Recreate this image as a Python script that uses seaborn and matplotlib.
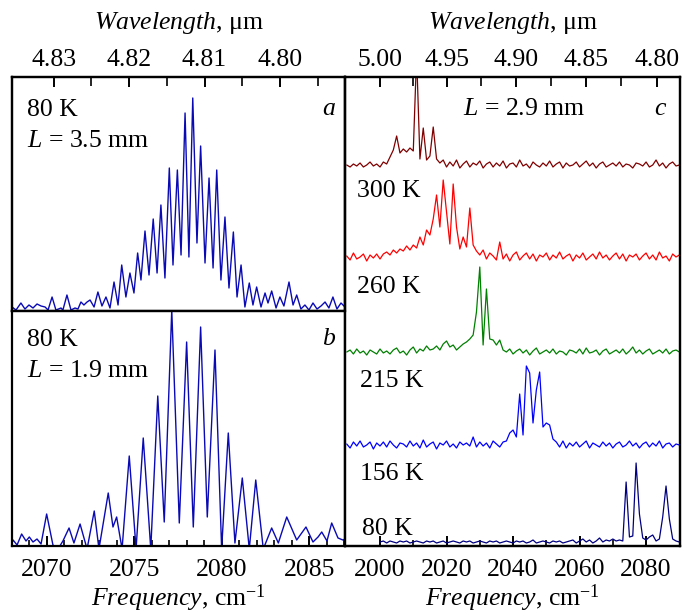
import numpy as np
import matplotlib
matplotlib.use("Agg")
import matplotlib.pyplot as plt
import seaborn as sns

# ---- panel a: L = 3.5 mm, 80 K (peak / valley points, cm-1 and arb. units)
freq_a = [2068.00, 2068.23, 2068.51, 2068.74, 2068.97, 2069.20, 2069.43, 2069.66,
          2069.89, 2070.06, 2070.29, 2070.51, 2070.80, 2070.91, 2071.14, 2071.37,
          2071.60, 2071.77, 2071.94, 2072.11, 2072.29, 2072.46, 2072.69, 2072.91,
          2073.14, 2073.37, 2073.60, 2073.83, 2074.06, 2074.27, 2074.51, 2074.74,
          2074.97, 2075.18, 2075.37, 2075.60, 2075.83, 2076.07, 2076.29, 2076.51,
          2076.74, 2076.99, 2077.20, 2077.45, 2077.66, 2077.89, 2078.11, 2078.33,
          2078.57, 2078.78, 2079.03, 2079.26, 2079.49, 2079.70, 2079.94, 2080.17,
          2080.40, 2080.65, 2080.86, 2081.09, 2081.31, 2081.56, 2081.77, 2081.98,
          2082.23, 2082.46, 2082.63, 2082.84, 2083.09, 2083.31, 2083.54, 2083.83,
          2084.06, 2084.27, 2084.51, 2084.74, 2084.97, 2085.20, 2085.43, 2085.66,
          2085.89, 2086.11, 2086.34, 2086.57, 2086.80, 2087.03]
amp_a = [4, 1, 8, 2, 6, 3, 7, 5,
         4, 1, 14, 1, 3, 1, 16, 1,
         3, 2, 9, 6, 9, 11, 4, 19,
         5, 14, 3, 29, 6, 46, 14, 38,
         18, 58, 31, 80, 36, 92, 38, 106,
         33, 143, 46, 141, 56, 198, 54, 213,
         68, 165, 48, 133, 43, 141, 31, 94,
         23, 79, 14, 46, 4, 28, 6, 24,
         4, 18, 8, 20, 3, 14, 5, 29,
         6, 16, 2, 6, 1, 8, 2, 5,
         9, 3, 14, 2, 8, 4]

# ---- panel b: L = 1.9 mm, 80 K
freq_b = [2068.00, 2068.06, 2068.29, 2068.55, 2068.80, 2068.99, 2069.20, 2069.43,
          2069.66, 2069.98, 2070.34, 2070.63, 2070.91, 2071.26, 2071.54, 2071.89,
          2072.29, 2072.70, 2072.97, 2073.50, 2073.77, 2073.98, 2074.29, 2074.70,
          2075.09, 2075.50, 2075.93, 2076.33, 2076.70, 2077.13, 2077.56, 2077.98,
          2078.36, 2078.78, 2079.16, 2079.60, 2079.98, 2080.36, 2080.74, 2081.16,
          2081.56, 2081.93, 2082.36, 2082.84, 2083.22, 2083.70, 2084.27, 2084.80,
          2085.20, 2085.49, 2085.70, 2086.00, 2086.27, 2086.63, 2086.91, 2087.03]
amp_b = [3, 6, 1, 12, 5, 9, 4, 7,
         2, 32, 1, -3, 5, 18, 3, 22,
         -3, 35, -3, 53, 19, 29, -3, 90,
         -3, 108, -3, 150, 24, 236, 23, 204,
         19, 219, 29, 196, -3, 113, 3, 68,
         -3, 66, -3, 18, 3, 29, 6, 19,
         4, 9, 14, 5, 23, 8, 6, 7]

# ---- panel c: L = 2.9 mm, spectra vs temperature (1 cm-1 steps)
freq_c = np.arange(1990, 2091)
freq_80k = np.arange(2000, 2091)
labels_c = ["300 K", "260 K", "215 K", "156 K", "80 K"]

spec_top = [0, -2, 1, -1, 2, -2, 0, 3, -1, 1,
            -2, 3, 1, 8, 15, 29, 12, 16, 13, 17,
            14, 110, 6, 37, 5, 9, 38, 6, 2, 5,
            -2, 3, -1, 5, -3, 1, 4, -2, 2, 0,
            4, -3, 1, 3, -2, 2, -1, 4, -3, 1,
            2, -2, 5, -1, 1, -3, 3, 0, -2, 2,
            -1, 4, -2, 1, 3, -3, 2, -1, 0, 3,
            -2, 1, 4, -1, 2, -3, 1, 3, -2, 0,
            2, -1, 3, -2, 1, 0, -3, 2, 1, -1,
            3, -2, 0, 5, -1, 2, -3, 1, 3, -1,
            0]
spec_300k = [1, -3, 4, -2, 0, 3, -4, 2, -1, 3,
             -2, 3, 5, 2, 7, 4, 8, 6, 11, 7,
             12, 9, 20, 12, 27, 22, 38, 62, 30, 77,
             45, 13, 73, 30, 8, 20, 10, 49, 12, 6,
             2, 7, -2, 4, 1, -3, 15, -2, 3, -4,
             2, 5, -3, 1, 4, -2, 3, -4, 2, 0,
             4, -3, 2, -1, 5, -2, 1, 3, -4, 2,
             -1, 4, -3, 0, 3, -2, 5, -1, 2, -3,
             1, 4, -2, 3, -4, 2, 0, 3, -3, 1,
             4, -2, 2, -3, 5, -1, 1, -4, 3, 0,
             2]
spec_260k = [0, 2, -2, 3, -1, 1, -3, 2, 0, -2,
             3, -1, 1, -2, 2, 4, -1, 1, -3, 2,
             5, -1, 3, 1, 6, 2, 3, 6, 2, 8,
             11, 5, 7, 2, 5, 8, 10, 13, 17, 40,
             85, 7, 63, 13, 12, 7, 12, 2, 0, 3,
             -2, 1, 3, -1, 2, -3, 1, 4, -2, 0,
             2, -1, 3, -2, 1, 0, -3, 2, 1, -1,
             3, -2, 4, -1, 0, 2, -3, 1, 3, -2,
             0, 2, -1, 3, -2, 1, 5, -1, 2, -2,
             1, 3, -2, 0, 2, -1, 3, -2, 1, 2,
             0]
spec_215k = [1, -3, 3, -1, 4, -2, 0, 3, -4, 2,
             -1, 3, -2, 4, 0, -3, 2, 1, -2, 4,
             -1, 2, -3, 5, -2, 1, 3, -4, 2, 0,
             4, -2, 1, -3, 3, 0, 2, -1, 8, -2,
             3, -1, 2, -3, 4, 1, -2, 3, 4, 12,
             15, 8, 51, 10, 79, 72, 22, 55, 73, 18,
             22, 20, 6, 3, -2, 4, -3, 2, -1, 3,
             -2, 1, 4, -3, 2, 0, -2, 3, -1, 2,
             -3, 1, 3, -2, 0, 4, -1, 2, -3, 1,
             3, -2, 2, -1, 4, -3, 1, 2, -2, 1,
             0]
spec_80k = [0, 1, -1, 1, 0, -1, 1, 0, 1, -1,
            0, 1, 0, -1, 1, 0, 1, -1, 0, 1,
            -1, 0, 1, 0, -1, 1, 0, 1, -1, 0,
            1, 0, -1, 1, 0, 1, -1, 0, 1, 0,
            -1, 1, 0, 1, -1, 0, 2, -1, 0, 1,
            0, -1, 1, 0, 1, -1, 0, 1, 2, -1,
            1, 3, 0, 2, -1, 1, 4, 0, 2, 1,
            3, 1, 2, 1, 60, 5, 6, 79, 28, 4,
            2, 5, 7, 1, 3, 25, 56, 23, 3, 1,
            0]

offsets_c = [381, 289, 194, 101, 4]
colors_c = ["#800000", "#ff0000", "#008000", "#0000ff", "#000080"]

# wavelength ticks (um) for the top axes
wl_major_ab = [4.83, 4.82, 4.81, 4.80]
wl_minor_ab = [4.825, 4.815, 4.805, 4.795]
wl_major_c = [5.00, 4.95, 4.90, 4.85, 4.80]
wl_minor_c = [4.975, 4.925, 4.875, 4.825]

sns.set_theme(style="ticks")
plt.rcParams["font.family"] = ["Liberation Serif", "DejaVu Serif"]
plt.rcParams["mathtext.fontset"] = "custom"
plt.rcParams["mathtext.rm"] = "Liberation Serif"
plt.rcParams["mathtext.it"] = "Liberation Serif:italic"
plt.rcParams["font.size"] = 18.5
plt.rcParams["text.color"] = "black"
plt.rcParams["xtick.color"] = "black"
plt.rcParams["axes.labelcolor"] = "black"

W, H = 682, 614
fig = plt.figure(figsize=(W / 100, H / 100), dpi=100)
ax_a = fig.add_axes([12 / W, 303 / H, 333 / W, 234 / H])
ax_b = fig.add_axes([12 / W, 68 / H, 333 / W, 235 / H])
ax_c = fig.add_axes([345 / W, 68 / H, 335 / W, 469 / H])

line_blue = "#0a0ab4"
sns.lineplot(x=freq_a, y=amp_a, ax=ax_a, color=line_blue, lw=1.0, estimator=None, sort=False)
sns.lineplot(x=freq_b, y=amp_b, ax=ax_b, color=line_blue, lw=1.0, estimator=None, sort=False)

traces = [(freq_c, spec_top), (freq_c, spec_300k), (freq_c, spec_260k),
          (freq_c, spec_215k), (freq_80k, spec_80k)]
for (fx, sy), off, col in zip(traces, offsets_c, colors_c):
    sns.lineplot(x=fx, y=np.asarray(sy) + off, ax=ax_c, color=col, lw=0.9,
                 estimator=None, sort=False)

for ax in (ax_a, ax_b, ax_c):
    for sp in ax.spines.values():
        sp.set_linewidth(1.6)
        sp.set_color("black")
    ax.set_xlabel("")
    ax.set_ylabel("")
    ax.set_yticks([])
    ax.tick_params(axis="y", left=False, right=False)

ax_a.set_xlim(2068, 2087.03)
ax_b.set_xlim(2068, 2087.03)
ax_a.set_ylim(0, 234)
ax_b.set_ylim(0, 235)
ax_c.set_xlim(1989.47, 2090.2)
ax_c.set_ylim(0, 469)

ax_a.set_xticks([])
ax_b.set_xticks([2070, 2075, 2080, 2085], ["2070", "2075", "2080", "2085"])
ax_b.set_xticks(np.arange(2068, 2088), minor=True)
ax_c.set_xticks([2000, 2020, 2040, 2060, 2080], ["2000", "2020", "2040", "2060", "2080"])
ax_c.set_xticks([2010, 2030, 2050, 2070], minor=True)
for ax in (ax_b, ax_c):
    ax.tick_params(axis="x", which="major", direction="in", length=7, width=1.4, pad=9.5,
                   color="black", bottom=True, top=False, labelsize=18.5)
    ax.tick_params(axis="x", which="minor", direction="in", length=4.5, width=1.2,
                   color="black", bottom=True, top=False)

freq_label = r"$\it{Frequency}$, cm$^{\mathrm{-1}}$"
wl_label = r"$\it{Wavelength}$, μm"
ax_b.set_xlabel(freq_label, fontsize=18.5, labelpad=1)
ax_c.set_xlabel(freq_label, fontsize=18.5, labelpad=1)

# top wavelength axes (tick positions converted to frequency, 1e4 / um)
for ax, wl_major, wl_minor in ((ax_a, wl_major_ab, wl_minor_ab), (ax_c, wl_major_c, wl_minor_c)):
    top = ax.twiny()
    top.set_xlim(ax.get_xlim())
    top.patch.set_visible(False)
    top.set_xticks(1e4 / np.array(wl_major), [f"{w:.2f}" for w in wl_major])
    top.set_xticks(1e4 / np.array(wl_minor), minor=True)
    top.tick_params(axis="x", which="major", direction="in", length=7.5, width=1.4, pad=4.5,
                    color="black", top=True, bottom=False, labelsize=18.5)
    top.tick_params(axis="x", which="minor", direction="in", length=6.5, width=1.2,
                    color="black", top=True, bottom=False)
    top.set_yticks([])
    for sp in top.spines.values():
        sp.set_linewidth(1.6)
        sp.set_color("black")
    top.set_xlabel(wl_label, fontsize=18.5, labelpad=14)

# annotations
ax_a.text(0.045, 0.833, "80 K", transform=ax_a.transAxes, va="baseline", ha="left")
ax_a.text(0.045, 0.702, r"$\it{L}$ = 3.5 mm", transform=ax_a.transAxes, va="baseline", ha="left")
ax_a.text(0.95, 0.838, "a", transform=ax_a.transAxes, va="baseline", ha="center", fontstyle="italic")
ax_b.text(0.045, 0.851, "80 K", transform=ax_b.transAxes, va="baseline", ha="left")
ax_b.text(0.045, 0.720, r"$\it{L}$ = 1.9 mm", transform=ax_b.transAxes, va="baseline", ha="left")
ax_b.text(0.95, 0.855, "b", transform=ax_b.transAxes, va="baseline", ha="center", fontstyle="italic")
ax_c.text(0.534, 0.919, r"$\it{L}$ = 2.9 mm", transform=ax_c.transAxes, va="baseline", ha="center")
ax_c.text(0.94, 0.919, "c", transform=ax_c.transAxes, va="baseline", ha="center", fontstyle="italic")

label_y = [0.744, 0.539, 0.339, 0.141, 0.023]
label_x = [0.036, 0.036, 0.045, 0.045, 0.05]
for txt, lx, ly in zip(labels_c, label_x, label_y):
    ax_c.text(lx, ly, txt, transform=ax_c.transAxes, va="baseline", ha="left")

fig.savefig("out.png", dpi=100)
